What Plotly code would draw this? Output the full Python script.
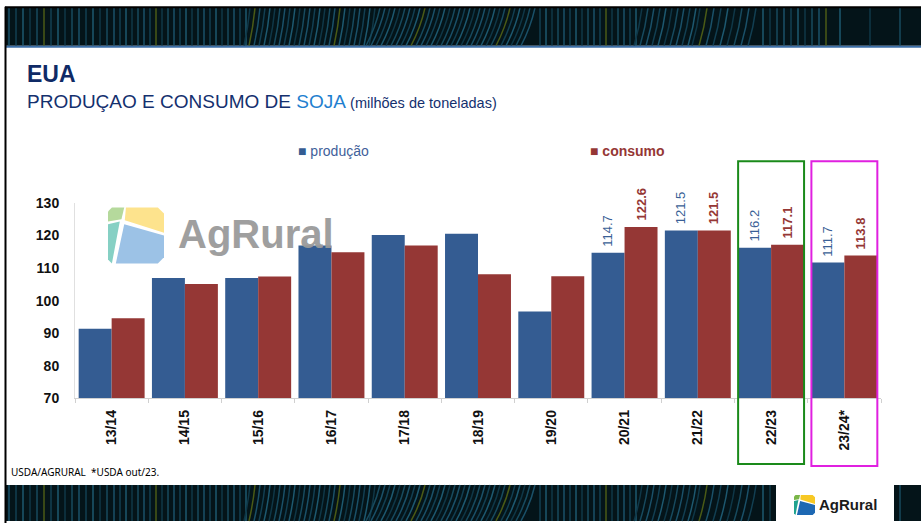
import plotly.graph_objects as go

# ---------------- data ----------------
categories = ["13/14", "14/15", "15/16", "16/17", "17/18", "18/19",
              "19/20", "20/21", "21/22", "22/23", "23/24*"]
producao = [91.4, 106.9, 106.9, 116.9, 120.1, 120.5, 96.7, 114.7, 121.5, 116.2, 111.7]
consumo = [94.6, 105.1, 107.4, 114.8, 116.9, 108.1, 107.5, 122.6, 121.5, 117.1, 113.8]
labeled_from = 7            # value labels shown from 20/21 onwards
y_ticks = [70, 80, 90, 100, 110, 120, 130]
highlight = {"22/23": "#1a8a1a", "23/24*": "#e020e0"}

# ---------------- geometry helpers ----------------
W, H = 921, 523
SY, OY = 0.971, 7.2     # measured vertical mapping of the rendered page


def px(x, y):
    y = (y - OY) / SY
    return x / W, 1 - y / H


X0, X1 = 75, 881          # plot area (px)
YT, YB = 202.3, 398.3
BARGAP = 0.10

BLUE = "#345C92"
RED = "#953735"
FONT = "Liberation Sans, Arial, sans-serif"

fig = go.Figure()
fig.add_trace(go.Bar(x=categories, y=producao, name="produção",
                     marker=dict(color=BLUE, line=dict(width=0))))
fig.add_trace(go.Bar(x=categories, y=consumo, name="consumo",
                     marker=dict(color=RED, line=dict(width=0))))

shapes = []
annotations = []

# ---------------- value labels ----------------
n = len(categories)
catw = (X1 - X0) / n
barw = catw * (1 - BARGAP) / 2
for i in range(labeled_from, n):
    for vals, off, col, bold in ((producao, -barw / 2, "#3A5F96", False),
                                 (consumo, barw / 2, RED, True)):
        txt = f"{vals[i]:.1f}"
        annotations.append(dict(
            x=categories[i], y=vals[i], xref="x", yref="y",
            text=f"<b>{txt}</b>" if bold else txt, textangle=-90,
            showarrow=False, xanchor="center", yanchor="bottom",
            xshift=off, yshift=4,
            font=dict(family=FONT, size=13, color=col)))

# ---------------- highlight boxes ----------------
for cat, col in highlight.items():
    i = categories.index(cat)
    xa = X0 + (i + 0.05) * catw
    xb = X0 + (i + 0.95) * catw
    yb = 464 if i == 9 else 466
    x0p, y0p = px(xa, 160.7)
    x1p, y1p = px(xb, yb)
    shapes.append(dict(type="rect", xref="paper", yref="paper",
                       x0=x0p, x1=x1p, y0=y1p, y1=y0p,
                       line=dict(color=col, width=2), layer="above"))

# ---------------- banners ----------------
def banner(ytop, ybot):
    x0p, y0p = px(5, ytop)
    x1p, y1p = px(921, ybot)
    shapes.append(dict(type="rect", xref="paper", yref="paper",
                       x0=x0p, x1=x1p, y0=y1p, y1=y0p,
                       fillcolor="#041419", line=dict(width=0), layer="above"))
    segs = [(9, 120, 7), (120, 250, 6), (250, 380, 5), (380, 540, 5),
            (540, 700, 6), (700, 830, 7), (840, 921, 30)]
    cols = ["#1a5068", "#123f52", "#1d586f", "#0f3747", "#174a5e"]
    k = 0
    for a, b, s in segs:
        x = a
        while x < b:
            tilt = 0
            if 380 <= x < 540:
                tilt = 14
            elif 250 <= x < 380:
                tilt = 6
            elif 640 <= x < 760:
                tilt = 8
            col = cols[k % len(cols)]
            if k % 17 == 5:
                col = "#4a5a16"
            xs, ys = px(x, ytop)
            xm, ym = px(x - tilt * 0.3, (ytop + ybot) / 2)
            xe, ye = px(x - tilt, ybot)
            shapes.append(dict(type="path", xref="paper", yref="paper",
                               path=f"M{xs},{ys} Q{xm},{ym} {xe},{ye}",
                               line=dict(color=col, width=1.5), layer="above"))
            x += s
            k += 1

banner(7, 45)
banner(485, 521)
# blue line under top banner
a0, b0 = px(5, 46)
a1, _ = px(921, 46)
shapes.append(dict(type="line", xref="paper", yref="paper", x0=a0, x1=a1, y0=b0, y1=b0,
                   line=dict(color="#3c6ea6", width=2), layer="above"))
# black frame top + left
a0, b0 = px(5, 6.5)
shapes.append(dict(type="line", xref="paper", yref="paper", x0=a0, x1=1, y0=b0, y1=b0,
                   line=dict(color="#000000", width=2), layer="above"))
a0, b0 = px(5.5, 6)
_, b1 = px(5.5, 523)
shapes.append(dict(type="line", xref="paper", yref="paper", x0=a0, x1=a0, y0=b1, y1=b0,
                   line=dict(color="#000000", width=2), layer="above"))
# bottom-right white logo box
a0, b0 = px(776, 485)
a1, b1 = px(894, 523)
shapes.append(dict(type="rect", xref="paper", yref="paper", x0=a0, x1=a1, y0=b1, y1=b0,
                   fillcolor="white", line=dict(width=0), layer="above"))

# ---------------- logo icon ----------------
icon_parts = [
    ([(0, .07), (.07, 0), (.29, 0), (.24, .21), (0, .25)], "green"),
    ([(.32, 0), (.89, 0), (1, .11), (1, .45), (.30, .23)], "yellow"),
    ([(0, .30), (.21, .25), (.07, 1), (0, .93)], "teal"),
    ([(.29, .30), (1, .50), (1, .89), (.89, 1), (.14, 1)], "blue"),
]
def icon(x, y, w, h, palette, layer, opacity=1):
    for pts, key in icon_parts:
        p = []
        for j, (u, v) in enumerate(pts):
            xp, yp = px(x + u * w, y + v * h)
            p.append(("M" if j == 0 else "L") + f"{xp},{yp}")
        shapes.append(dict(type="path", xref="paper", yref="paper",
                           path=" ".join(p) + " Z", fillcolor=palette[key],
                           line=dict(width=0), layer=layer, opacity=opacity))

icon(108, 207, 56, 56, {"green": "#b5d99c", "yellow": "#fde38d",
                        "teal": "#86d0c4", "blue": "#9cc2e6"}, "below")
icon(794, 495, 21, 20, {"green": "#7ab648", "yellow": "#f7c824",
                        "teal": "#1fa28e", "blue": "#1d68b3"}, "above")

# ---------------- texts ----------------
def ann(x, y, text, size, color, xanchor="left", yanchor="middle", family=FONT, opacity=1):
    xp, yp = px(x, y)
    annotations.append(dict(x=xp, y=yp, xref="paper", yref="paper", text=text,
                            showarrow=False, xanchor=xanchor, yanchor=yanchor,
                            font=dict(family=family, size=size, color=color),
                            opacity=opacity))

ann(25, 73, "<b>EUA</b>", 23, "#0f2a66")
ann(25, 101, "PRODUÇAO E CONSUMO DE <span style='color:#1f7fcf'>SOJA</span>"
    " <span style='font-size:14.5px'>(milhões de toneladas)</span>", 19, "#14306e")
ann(256, 234, "<b>AgRural</b>", 40, "#9a9a9a", xanchor="center", opacity=0.95)
ann(848, 505, "<b>AgRural</b>", 15, "#1b1b1b", xanchor="center")
ann(9, 472, "USDA/AGRURAL  *USDA out/23.", 10, "#000000", family="Noto Sans, sans-serif")
# legend
ann(296, 150, f"<span style='color:{BLUE}'>■</span> produção", 14, "#3F5F9A")
ann(588, 150, f"<span style='color:{RED}'>■</span> <b>consumo</b>", 14, RED)

xd0, _ = px(X0, 0)
xd1, _ = px(X1, 0)
_, yd0 = px(0, YB)
_, yd1 = px(0, YT)

fig.update_layout(
    width=W, height=H, margin=dict(l=0, r=0, t=0, b=0),
    paper_bgcolor="white", plot_bgcolor="rgba(0,0,0,0)",
    showlegend=False, barmode="group", bargap=BARGAP, bargroupgap=0,
    font=dict(family=FONT),
    xaxis=dict(domain=[xd0, xd1], type="category", showline=True, linecolor="#d0d0d0",
               linewidth=1, ticks="outside", tickson="boundaries", ticklen=4,
               tickcolor="#d0d0d0", tickangle=-90, showgrid=False, zeroline=False,
               tickfont=dict(family=FONT, size=14, color="#111111"),
               ticklabelstandoff=5, fixedrange=True,
               tickmode="array", tickvals=categories,
               ticktext=[f"<b>{c}</b>" for c in categories]),
    yaxis=dict(domain=[yd0, yd1], range=[y_ticks[0], y_ticks[-1]], tickvals=y_ticks,
               ticktext=[f"<b>{t}</b>" for t in y_ticks],
               showline=True, linecolor="#e0e0e0", showgrid=False, zeroline=False,
               ticks="", ticklabelstandoff=12, fixedrange=True,
               tickfont=dict(family=FONT, size=14, color="#111111")),
    shapes=shapes, annotations=annotations,
)

fig.write_html(
    "out.html",
    config={"displayModeBar": False, "responsive": False},
    post_script="document.documentElement.style.margin='0';"
                "document.body.style.margin='0';document.body.style.padding='0';"
                "document.documentElement.style.overflow='hidden';"
                "document.body.style.overflow='hidden';",
)
